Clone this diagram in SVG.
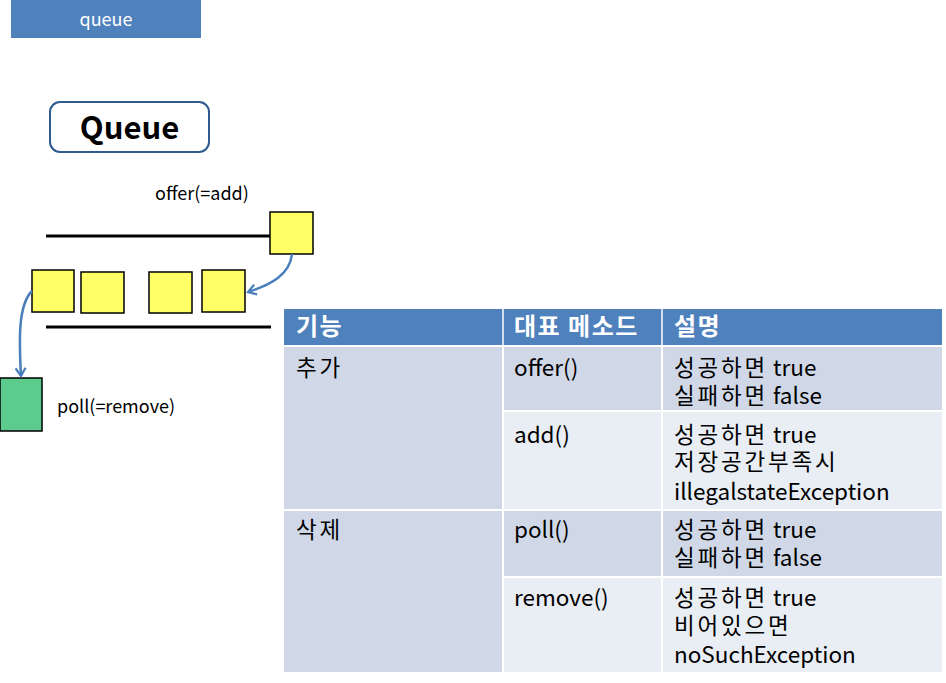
<svg xmlns="http://www.w3.org/2000/svg" width="946" height="683" viewBox="0 0 946 683">
<defs>
<style>
.t{font-family:"Noto Sans CJK KR","Liberation Sans",sans-serif;fill:#000}
.h{font-family:"Noto Sans CJK KR","Liberation Sans",sans-serif;fill:#fff;font-weight:bold;font-size:24px;letter-spacing:1.5px}
.b{font-size:22.5px}
.k{letter-spacing:2.8px}
.y{fill:#FFFF66;stroke:#000;stroke-width:1.5}
.dk{fill:#D0D8E8}
.lt{fill:#E9EDF4}
.ln{stroke:#000;stroke-width:3}
.ar{fill:none;stroke:#4A7EBB;stroke-width:2.5;marker-end:url(#ah)}
</style>
<marker id="ah" markerWidth="12" markerHeight="12" refX="9" refY="6" orient="auto" markerUnits="userSpaceOnUse">
<path d="M1,1 L9,6 L1,11" fill="none" stroke="#4A7EBB" stroke-width="2.2"/>
</marker>
</defs>
<rect width="946" height="683" fill="#fff"/>
<g id="banner">
<rect x="11" y="0" width="190" height="38" fill="#4F81BD"/>
<text x="106" y="26" text-anchor="middle" font-family="Noto Sans CJK KR,Liberation Sans,sans-serif" font-size="18" fill="#fff">queue</text>
</g>
<g id="title">
<rect x="50" y="102" width="159" height="50" rx="10" fill="#fff" stroke="#2E5A8E" stroke-width="2"/>
<text x="129.5" y="139" text-anchor="middle" class="t" font-size="31" font-weight="bold">Queue</text>
</g>
<g id="offer-label"><text x="155" y="200" class="t" font-size="18">offer(=add)</text></g>
<g id="rails">
<line x1="46" y1="236" x2="272" y2="236" class="ln"/>
<line x1="46" y1="327" x2="271" y2="327" class="ln"/>
</g>
<g id="incoming"><rect x="270" y="212" width="43" height="42" class="y"/></g>
<g id="item1"><rect x="32" y="270" width="42" height="42" class="y"/></g>
<g id="item2"><rect x="81" y="272" width="43" height="41" class="y"/></g>
<g id="item3"><rect x="149" y="272" width="43" height="41" class="y"/></g>
<g id="item4"><rect x="202" y="270" width="43" height="42" class="y"/></g>
<g id="removed"><rect x="0" y="378" width="42" height="53" fill="#5DCB8E" stroke="#000" stroke-width="1.5"/></g>
<g id="poll-label"><text x="57" y="413" class="t" font-size="18">poll(=remove)</text></g>
<g id="connectors">
<path d="M292,254 C290,275 270,285 248,292" class="ar"/>
<path d="M32,291 C18,305 19,340 21,376" class="ar"/>
</g>
<g id="table">
<rect x="284" y="309" width="658" height="36" fill="#4F81BD"/>
<rect x="284" y="347" width="218" height="162" class="dk"/>
<rect x="284" y="511" width="218" height="161" class="dk"/>
<rect x="504" y="347" width="157" height="63" class="dk"/>
<rect x="663" y="347" width="279" height="63" class="dk"/>
<rect x="504" y="412" width="157" height="97" class="lt"/>
<rect x="663" y="412" width="279" height="97" class="lt"/>
<rect x="504" y="511" width="157" height="65" class="dk"/>
<rect x="663" y="511" width="279" height="65" class="dk"/>
<rect x="504" y="578" width="157" height="94" class="lt"/>
<rect x="663" y="578" width="279" height="94" class="lt"/>
<line x1="503" y1="309" x2="503" y2="345" stroke="#fff" stroke-width="1.5"/>
<line x1="662" y1="309" x2="662" y2="345" stroke="#fff" stroke-width="1.5"/>
<text x="296" y="335" class="h">기능</text>
<text x="514" y="335" class="h">대표 메소드</text>
<text x="674" y="335" class="h">설명</text>
<g class="t b">
<text x="296" y="376" class="k">추가</text>
<text x="514" y="376">offer()</text>
<text x="674" y="376"><tspan class="k">성공하면</tspan> true<tspan x="674" y="404" class="k">실패하면</tspan> false</text>
<text x="514" y="443">add()</text>
<text x="674" y="443"><tspan class="k">성공하면</tspan> true<tspan x="674" y="470" class="k">저장공간부족시</tspan><tspan x="674" y="500">illegalstateException</tspan></text>
<text x="296" y="538" class="k">삭제</text>
<text x="514" y="538">poll()</text>
<text x="674" y="538"><tspan class="k">성공하면</tspan> true<tspan x="674" y="566" class="k">실패하면</tspan> false</text>
<text x="514" y="606">remove()</text>
<text x="674" y="606"><tspan class="k">성공하면</tspan> true<tspan x="674" y="634" class="k">비어있으면</tspan><tspan x="674" y="663">noSuchException</tspan></text>
</g>
</g>
</svg>
